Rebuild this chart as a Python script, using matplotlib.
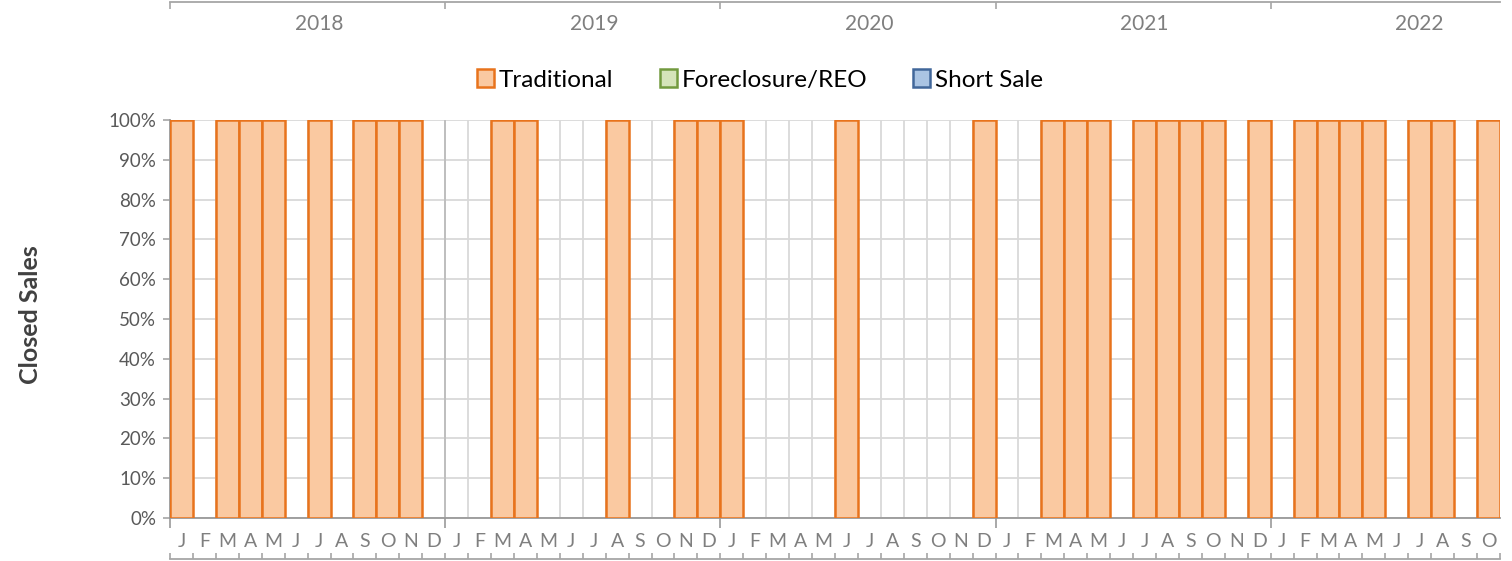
import matplotlib
matplotlib.use('Agg')
import matplotlib.pyplot as plt
from matplotlib.patches import Patch
import numpy as np

plt.rcParams['font.family'] = ['Lato', 'DejaVu Sans']

# monthly closed sales share, Jan 2018 - Oct 2022
years = ['2018', '2019', '2020', '2021', '2022']
month_letters = ['J', 'F', 'M', 'A', 'M', 'J', 'J', 'A', 'S', 'O', 'N', 'D']
months = (month_letters * len(years))[:58]

traditional = [100, 0, 100, 100, 100, 0, 100, 0, 100, 100, 100, 0,
               0, 0, 100, 100, 0, 0, 0, 100, 0, 0, 100, 100,
               100, 0, 0, 0, 0, 100, 0, 0, 0, 0, 0, 100,
               0, 0, 100, 100, 100, 0, 100, 100, 100, 100, 0, 100,
               0, 100, 100, 100, 100, 0, 100, 100, 0, 100]
foreclosure = [0] * 58
short_sale = [0] * 58

series = [('Traditional', traditional, '#FAC9A1', '#E8731C'),
          ('Foreclosure/REO', foreclosure, '#D5E4BA', '#729A3F'),
          ('Short Sale', short_sale, '#AAC4E3', '#41679A')]

n = len(months)
x = np.arange(n)
bounds = np.arange(n + 1) - 0.5
year_bounds = np.arange(len(years)) * 12 - 0.5
year_pos = np.arange(len(years)) * 12 + 6

W, H = 1512, 561
fig = plt.figure(figsize=(W / 100, H / 100), dpi=100)
ax = fig.add_axes([170 / W, 43 / H, 1330 / W, 398 / H])

bottom = np.zeros(n)
for name, vals, fc, ec in series:
    vals = np.array(vals, dtype=float)
    lw = np.where(vals > 0, 1.8, 0)
    ax.bar(x, vals, width=1.0, bottom=bottom, color=fc, edgecolor=ec,
           linewidth=lw, zorder=3)
    bottom += vals

ax.set_xlim(-0.5, n - 0.5)
ax.set_ylim(0, 100)
ax.set_yticks(np.arange(0, 101, 10))
ax.set_yticklabels([f'{v}%' for v in range(0, 101, 10)])
ax.tick_params(axis='y', length=5, width=1.2, color='#A6A6A6',
               labelsize=13.5, labelcolor='#595959', pad=5)
ax.yaxis.grid(True, color='#D9D9D9', lw=1.3)
ax.set_axisbelow(True)

ax.set_xticks(x)
ax.set_xticklabels(months)
ax.set_xticks(bounds, minor=True)
ax.tick_params(axis='x', which='major', length=0, pad=11,
               labelsize=14, labelcolor='#7F7F7F')
ax.tick_params(axis='x', which='minor', length=0)
ax.xaxis.grid(True, which='minor', color='#D9D9D9', lw=1.3)
for b in year_bounds[1:]:
    ax.axvline(b, color='#BFBFBF', lw=1.4, zorder=1)

for s in ['top', 'right']:
    ax.spines[s].set_visible(False)
for s in ['left', 'bottom']:
    ax.spines[s].set_color('#999999')
    ax.spines[s].set_linewidth(1.3)

ax.set_ylabel('Closed Sales', fontsize=18, fontweight='bold', color='#404040')
ax.yaxis.set_label_coords(-0.096, 0.51)

# year boundary ticks under the 0% line
sec0 = ax.secondary_xaxis(0)
sec0.set_xticks(year_bounds, labels=[])
sec0.tick_params(direction='out', length=7, width=1.2, color='#999999')
sec0.spines['bottom'].set_visible(False)

# lower tick row
secb = ax.secondary_xaxis(-41 / 398)
secb.set_xticks(bounds, labels=[])
secb.tick_params(direction='in', length=4, width=1.2, color='#A6A6A6')
secb.spines['bottom'].set_color('#A6A6A6')
secb.spines['bottom'].set_linewidth(1.3)

# top year row
sect = ax.secondary_xaxis(1 + 118 / 398)
sect.set_xticks(year_bounds, labels=[])
sect.tick_params(direction='in', length=5, width=1.2, color='#A6A6A6')
sect.spines['top'].set_color('#A6A6A6')
sect.spines['top'].set_linewidth(1.3)

secy = ax.secondary_xaxis(1 + 86 / 398)
secy.set_xticks(year_pos, labels=years)
secy.tick_params(length=0, pad=0, labelsize=15, labelcolor='#7F7F7F')
secy.spines['top'].set_visible(False)

handles = [Patch(facecolor=fc, edgecolor=ec, linewidth=1.8)
           for _, _, fc, ec in series]
fig.legend(handles, [s[0] for s in series], loc='center',
           bbox_to_anchor=(760 / W, 1 - 80 / H), ncol=3, frameon=False,
           fontsize=17.5, handlelength=0.7, handleheight=0.7,
           handletextpad=0.2, columnspacing=1.9)

fig.savefig('out.png', dpi=100)
